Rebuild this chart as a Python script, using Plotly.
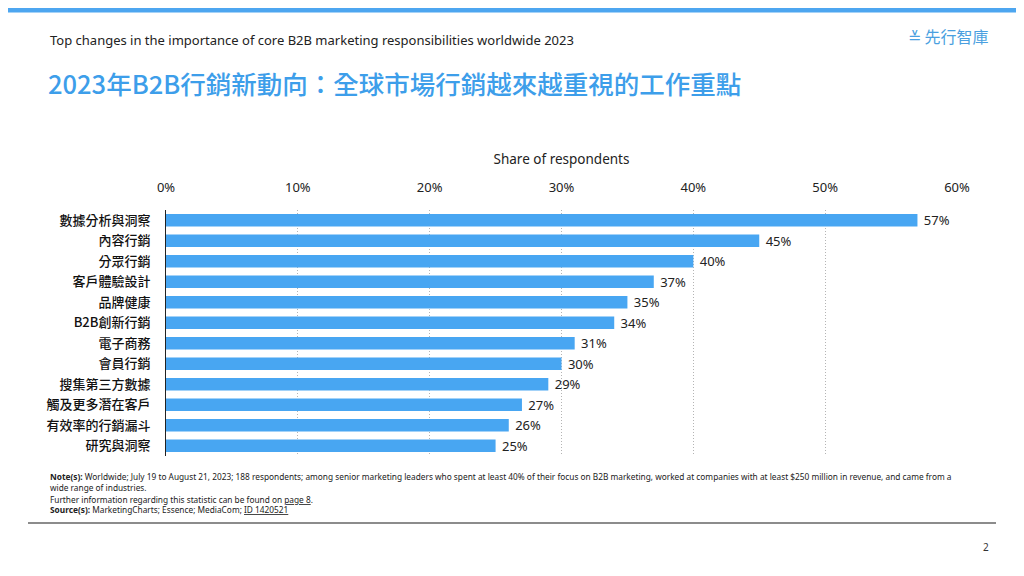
import plotly.graph_objects as go

categories = ["數據分析與洞察", "內容行銷", "分眾行銷", "客戶體驗設計", "品牌健康", "B2B創新行銷",
              "電子商務", "會員行銷", "搜集第三方數據", "觸及更多潛在客戶", "有效率的行銷漏斗", "研究與洞察"]
values = [57, 45, 40, 37, 35, 34, 31, 30, 29, 27, 26, 25]
tick_vals = [0, 10, 20, 30, 40, 50, 60]
tick_text = ["0%", "10%", "20%", "30%", "40%", "50%", "60%"]

BLUE = "#48A6F2"
CJK = "Noto Sans CJK TC, Noto Sans, sans-serif"
LAT = "Noto Sans, Open Sans, sans-serif"

# page offset of the browser body (8px) is compensated: figure coords = screen coords - 8
OFF = 8
W, H = 1024 - OFF, 576 - OFF
PL, PR, PT, PB = 166 - OFF, 957 - OFF, 210 - OFF, 456 - OFF
PW, PH = PR - PL, PB - PT

fig = go.Figure()
fig.add_trace(go.Bar(
    y=categories, x=values, orientation="h",
    marker=dict(color=BLUE, line=dict(width=0)),
    width=0.62,
    text=[f" {v}%" for v in values], textposition="outside", constraintext="none",
    textfont=dict(family=LAT, size=13, color="#222222"),
    cliponaxis=False, hoverinfo="skip",
))

fig.update_layout(
    width=W, height=H,
    margin=dict(l=PL, r=W - PR, t=PT, b=H - PB),
    paper_bgcolor="white", plot_bgcolor="white",
    showlegend=False,
    xaxis=dict(side="top", range=[0, 60], tickvals=tick_vals, ticktext=tick_text,
               showgrid=True, gridcolor="#B4B4B4", griddash="1px,2px", gridwidth=1,
               zeroline=False, showline=False, ticks="outside", ticklen=12, tickcolor="rgba(0,0,0,0)",
               tickfont=dict(family=LAT, size=13, color="#222222"),
               title=dict(text="Share of respondents", font=dict(family=LAT, size=13.5, color="#222222"),
                          standoff=10)),
    yaxis=dict(autorange="reversed", showline=True, linecolor="#222222", linewidth=1,
               ticks="", showgrid=False, ticklabelstandoff=12,
               tickfont=dict(family=CJK, size=13, color="#111111", weight=500)),
)


def px(x):
    return (x - OFF - PL) / PW


def py(y):
    return (PB - (y - OFF)) / PH


# top strip
fig.add_shape(type="rect", xref="paper", yref="paper", x0=px(0), x1=px(1030),
              y0=py(8), y1=py(12.5), fillcolor="#4DA6F0", line=dict(width=0), layer="above")
# bottom rule
fig.add_shape(type="line", xref="paper", yref="paper", x0=px(28), x1=px(996),
              y0=py(523), y1=py(523), line=dict(color="#666666", width=1.5))

NOTE = 8.3
ann = [
    dict(x=px(48), y=py(40), text="Top changes in the importance of core B2B marketing responsibilities worldwide 2023",
         font=dict(family=LAT, size=13, color="#222222")),
    dict(x=px(46), y=py(82), text="2023年B2B行銷新動向：全球市場行銷越來越重視的工作重點",
         font=dict(family=CJK, size=25.5, color="#3D9EEA", weight=500)),
    dict(x=px(906), y=py(36), text="≚ 先行智庫", font=dict(family=CJK, size=16, color="#4A9FE0")),
    dict(x=px(48), y=py(476), text="<b>Note(s):</b> Worldwide; July 19 to August 21, 2023; 188 respondents; among senior marketing leaders who spent at least 40% of their focus on B2B marketing, worked at companies with at least $250 million in revenue, and came from a",
         font=dict(family=LAT, size=NOTE, color="#222222")),
    dict(x=px(48), y=py(487), text="wide range of industries.", font=dict(family=LAT, size=NOTE, color="#222222")),
    dict(x=px(48), y=py(499), text="Further information regarding this statistic can be found on <u>page 8</u>.",
         font=dict(family=LAT, size=NOTE, color="#222222")),
    dict(x=px(48), y=py(509), text="<b>Source(s):</b> MarketingCharts; Essence; MediaCom; <u>ID 1420521</u>",
         font=dict(family=LAT, size=NOTE, color="#222222")),
    dict(x=px(981), y=py(547), text="2", font=dict(family=LAT, size=10, color="#333333")),
]
for a in ann:
    fig.add_annotation(xref="paper", yref="paper", xanchor="left", yanchor="middle",
                       showarrow=False, **a)

fig.write_html("out.html")
